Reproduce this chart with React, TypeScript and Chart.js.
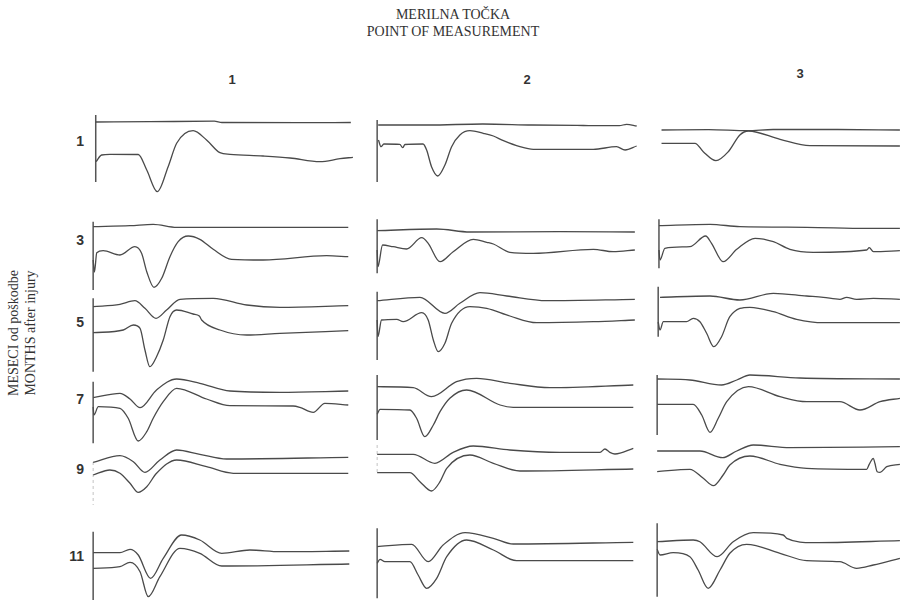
import React, { useEffect, useRef } from "react";
import { Chart, registerables } from "chart.js";

Chart.register(...registerables);

type Pt = [number, number];

// ---- axis / label data ----
const TITLE_LINES = ["MERILNA TOČKA", "POINT OF MEASUREMENT"];
const Y_TITLE_LINES = ["MESECI od poškodbe", "MONTHS after injury"];
const COLUMN_LABELS = ["1", "2", "3"];
const ROW_LABELS = ["1", "3", "5", "7", "9", "11"];
const TIME_MIN = -2;
const TIME_MAX = 102;

// ---- traces: [time, amplitude] ----
const r1c1Upper: Pt[] = [[1, 78], [22, 78.3], [47, 78.8], [50, 77.5], [80, 77.3], [100, 77.5]];
const r1c1Lower: Pt[] = [[1.1, 38.3], [3.3, 45], [6.5, 45.7], [17.5, 45.5], [20.8, 30], [24.9, 8.3], [29.1, 33.3], [32.4, 56.7], [38.8, 69.3], [44, 60], [49.2, 47.3], [53.1, 45.7], [65.9, 44], [76.4, 42], [88, 38.3], [95.8, 41.3], [100.8, 42.7]];
const r1c1Bar = [85, 18];

const r1c2Upper: Pt[] = [[0.4, 75], [20, 75], [41, 76], [60, 75], [80, 74.5], [94, 74.3], [96.8, 75.7], [100.7, 74]];
const r1c2Lower: Pt[] = [[0.5, 60], [1.5, 53.3], [2.6, 56], [8.8, 55.7], [9.9, 52.3], [10.8, 55.5], [17.8, 56], [19.2, 50], [21.1, 33.3], [23.5, 24], [26.3, 35], [28.9, 53.3], [32.1, 65], [36, 69.3], [41.2, 66.7], [45.1, 64], [49, 59.3], [55.4, 53.3], [60.6, 50.7], [83.9, 50.7], [92.9, 53.3], [96.2, 50], [100.7, 54]];
const r1c2Bar = [80, 18];

const r1c3Upper: Pt[] = [[1.7, 70], [20, 70.3], [35, 69.3], [45, 70.5], [70, 70.5], [94.2, 70]];
const r1c3Lower: Pt[] = [[1.7, 56.7], [14.7, 56.7], [17.9, 48.3], [22.8, 39.3], [27.6, 48.3], [32.1, 65], [35.4, 69], [47.7, 60.7], [59.3, 54.3], [94.2, 54]];

const r3c1Upper: Pt[] = [[0, 73.3], [14.3, 74.3], [23.3, 75.7], [32.4, 72.7], [59.6, 72.7], [99, 72.7]];
const r3c1Lower: Pt[] = [[0, 40], [0.5, 28], [1.4, 47.3], [3.9, 49.3], [10.4, 45], [16.2, 53.3], [18.8, 46.7], [20.8, 28.3], [23.6, 12.7], [26.6, 21.7], [29.8, 43.3], [33, 58.3], [36.9, 64], [41.4, 60.7], [46.6, 50.7], [53.7, 40.7], [66, 40], [90.6, 44.3], [99, 43.3]];
const r3c1Bar = [78.3, 10];

const r3c2Upper: Pt[] = [[0, 69.3], [23.1, 71], [36, 68], [70.9, 68.3], [100, 68]];
const r3c2Lower: Pt[] = [[0, 50], [0.3, 33.3], [2.1, 55], [6.2, 53.3], [11.4, 51], [17.3, 62.3], [19.8, 56.7], [24.4, 38.3], [29.5, 48.3], [37.3, 60.7], [42.5, 57.7], [45.1, 56], [51.5, 47.7], [60.6, 46.7], [83.9, 50.7], [91.6, 48.3], [100, 50]];
const r3c2Bar = [80.7, 26.7];

const r3c3Upper: Pt[] = [[0.7, 74.3], [20.5, 75.7], [32.1, 73.3], [58, 72.7], [81.3, 71.7], [94.2, 71.7]];
const r3c3Lower: Pt[] = [[0.7, 50], [1.1, 40], [3, 51.7], [12.7, 53.3], [18.8, 64], [21.1, 56.7], [25.6, 38.3], [30.9, 50.7], [38, 61.7], [45.1, 58.3], [51.5, 50.7], [60.6, 47.7], [81.3, 50], [82.3, 52.3], [83.9, 48.3], [94.2, 49.3]];
const r3c3Bar = [80.7, 31.7];

const r5c1Upper: Pt[] = [[0, 73.3], [10.4, 75.7], [16.2, 79.3], [20.1, 71.7], [24.4, 61.7], [28.5, 70], [33.7, 80.7], [46.6, 81.7], [59.6, 75], [72.5, 72.7], [99, 74.3]];
const r5c1Lower: Pt[] = [[0, 47.3], [11.7, 50], [15.6, 55], [18.2, 51.7], [20.1, 30], [22, 13.3], [24.6, 23.3], [27.2, 40], [29.8, 63.3], [32.4, 70], [38.8, 66], [41.2, 64], [42.1, 60], [49.2, 50], [59.6, 45], [72.5, 46.7], [99, 49.3]];
const r5c1Bar = [81.7, 8.3];

const r5c2Upper: Pt[] = [[0, 79.3], [16.6, 82.7], [26.3, 66.7], [32.1, 76.7], [39.9, 87.3], [50.3, 84], [65.8, 79.3], [100, 80.7]];
const r5c2Lower: Pt[] = [[0, 60], [0.3, 43.3], [1.7, 60], [7.6, 60.7], [10.1, 58.3], [17.3, 67.3], [19.8, 60], [21.8, 40], [23.7, 28.3], [26.3, 36.7], [28.9, 56.7], [36, 73.3], [42.5, 71.7], [51.5, 64], [61.9, 57.3], [83.9, 58.3], [100, 60]];
const r5c2Bar = [88.3, 20];

const r5c3Upper: Pt[] = [[1.1, 82.7], [20.5, 84], [32.1, 80], [45.1, 86.7], [58, 84], [64.5, 82.7], [70.9, 80.7], [73.5, 82.7], [77.4, 80.7], [83.9, 81.7], [94.2, 80.7]];
const r5c3Lower: Pt[] = [[0.4, 58], [1.1, 50], [2.4, 58.3], [11.4, 58.3], [14, 61.7], [16.6, 58.3], [19.2, 46.7], [22, 33.3], [25, 43.3], [28.2, 63.3], [36, 72.7], [45.1, 68.3], [54.1, 60.7], [64.5, 57.3], [94.2, 57.3]];
const r5c3Bar = [93.3, 43.3];

const r7c1Upper: Pt[] = [[0, 52.3], [10.4, 56.7], [14.3, 51], [18.2, 42.3], [24.6, 60], [32.4, 71], [41.4, 66.7], [53.1, 59], [72.5, 57.7], [99, 59]];
const r7c1Lower: Pt[] = [[0, 43], [0.3, 35], [2, 43.3], [10.4, 41.7], [13.6, 31.7], [17.5, 9], [20.8, 18.3], [23.3, 31.7], [27.2, 48.3], [32.4, 61.7], [44, 51], [53.1, 44.3], [77.6, 44], [80.2, 42.7], [85.4, 37.7], [89.9, 46.7], [99, 45]];
const r7c1Bar = [68.3, 6.7];

const r7c2Upper: Pt[] = [[0, 63.3], [14, 62.3], [21.1, 53.3], [30.8, 68.3], [38.6, 71.7], [51.5, 66.7], [67.1, 62.3], [99.4, 65]];
const r7c2Lower: Pt[] = [[0, 35.7], [1.1, 40.7], [12.7, 40], [15.3, 31.7], [18.5, 13.3], [21.8, 25], [24.4, 38.3], [28.2, 51.7], [34.7, 60], [47.7, 45], [52.8, 42.7], [99.4, 42.7]];
const r7c2Bar = [75, 10];

const r7c3Upper: Pt[] = [[0, 71], [12.7, 70], [25, 65], [30.9, 70], [36, 75], [55.4, 72], [94.2, 71]];
const r7c3Lower: Pt[] = [[0, 45.7], [14, 45.7], [17.3, 35], [20.5, 17.7], [23.7, 31.7], [27, 48.3], [35.4, 63.3], [47.7, 53.3], [58, 48.3], [70.9, 48.3], [78.7, 40], [86.5, 48.3], [94.2, 51.7]];
const r7c3Bar = [75, 15];

const r9c1Upper: Pt[] = [[0, 45.7], [10.4, 52.3], [15.6, 46.3], [20.1, 35.7], [25.9, 48], [32.4, 58], [41.4, 53.7], [51.8, 49], [99, 50.7]];
const r9c1Lower: Pt[] = [[0, 33], [6.5, 38], [10.4, 34.7], [14.3, 24.7], [17.5, 15.7], [20.8, 21.3], [24.6, 34.7], [32.4, 48], [44, 41.3], [54.4, 34.7], [99, 34.7]];
const r9c1Bar = [46, 3];

const r9c2Upper: Pt[] = [[0, 53.7], [14, 53.7], [22.4, 44.7], [29.5, 55.7], [37.3, 62], [51.5, 58], [70.9, 55.7], [86.5, 55.7], [88.4, 59], [90.3, 55.7], [92.3, 54], [99.4, 59.7]];
const r9c2Lower: Pt[] = [[0, 35.3], [12.7, 35.3], [16.6, 26.3], [21.1, 17], [24.4, 26.3], [27, 39.7], [36, 53], [45.1, 44.7], [55.4, 37], [99.4, 39]];
const r9c2Bar = [63, 36];

const r9c3Upper: Pt[] = [[0, 57], [16.6, 57], [25.4, 50.3], [30.9, 57], [37.3, 63], [51.5, 60.3], [94.2, 61.3]];
const r9c3Lower: Pt[] = [[0, 36.3], [12.7, 38.7], [17.9, 29.7], [21.8, 22.3], [25.6, 33], [28.2, 43], [36, 52], [47.7, 43.7], [58, 39.7], [81.3, 38.7], [82.3, 43.7], [83.9, 49.7], [84.5, 44.7], [85.4, 36.3], [86.5, 35.7], [89.1, 41.3], [94.2, 43.7]];

const r11c1Upper: Pt[] = [[0, 49.3], [10.4, 49.3], [14.3, 52.7], [17.5, 47], [22.3, 23.7], [27.2, 43.7], [34.3, 67], [41.4, 62], [49.9, 48.7], [60.8, 52], [72.5, 50.3], [99.4, 51]];
const r11c1Lower: Pt[] = [[0, 33.7], [10.4, 35.3], [14.3, 39.7], [18.2, 30.3], [21.4, 5.3], [25.9, 25.3], [33.7, 53.7], [41.4, 48.7], [49.9, 36], [99.4, 38]];
const r11c1Bar = [70.3, 2];

const r11c2Upper: Pt[] = [[0, 55.3], [13.4, 57.7], [19.8, 40.3], [25.6, 57], [34.1, 69.3], [45.1, 63.7], [52.8, 58], [99.4, 59.7]];
const r11c2Lower: Pt[] = [[0, 38.7], [1.1, 42.7], [3, 40.3], [12.7, 40.3], [15.9, 27], [19.2, 13.7], [23.1, 23.7], [27, 45.3], [34.7, 62], [45.1, 52], [54.1, 41.3], [99.4, 41.3]];
const r11c2Bar = [73.7, 3.7];

const r11c3Upper: Pt[] = [[0, 60.3], [14, 62], [16.6, 60.3], [23.3, 45.3], [29.5, 60.3], [37.3, 69.3], [48.9, 67], [50.3, 63.7], [60.6, 59.3], [94.2, 61.3]];
const r11c3Lower: Pt[] = [[0, 52.7], [1.1, 47], [6.2, 49.3], [12.7, 45.3], [15.9, 32], [19.8, 13.7], [24.4, 32], [28.2, 48.7], [34.7, 57.7], [47.7, 48.7], [58, 41.3], [70.9, 40.3], [77.4, 33.7], [83.9, 37], [94.2, 43.7]];
const r11c3Bar = [78.7, 5.3];

// ---- layout (positions only) ----
const PANEL_W = 268;
const COL_LEFT = [88, 372, 652];
const COL_LABEL_X = [232, 527, 800];
const COL_LABEL_Y = [79, 79, 73];
const ROW_TOP = [105, 210, 280, 368, 438, 515];
const ROW_H = [95, 90, 100, 82, 70, 87];
const ROW_LABEL_Y = [141, 240, 322, 399, 469, 556];
const ROW_LABEL_RIGHT = 84;

type PanelDef = {
  upper: Pt[];
  lower: Pt[];
  bar: number[] | null;
  barAt: number;
  faint?: boolean;
};

const PANELS: PanelDef[][] = [
  [
    { upper: r1c1Upper, lower: r1c1Lower, bar: r1c1Bar, barAt: 1 },
    { upper: r1c2Upper, lower: r1c2Lower, bar: r1c2Bar, barAt: 0 },
    { upper: r1c3Upper, lower: r1c3Lower, bar: null, barAt: 0 },
  ],
  [
    { upper: r3c1Upper, lower: r3c1Lower, bar: r3c1Bar, barAt: 0 },
    { upper: r3c2Upper, lower: r3c2Lower, bar: r3c2Bar, barAt: 0 },
    { upper: r3c3Upper, lower: r3c3Lower, bar: r3c3Bar, barAt: 0.7 },
  ],
  [
    { upper: r5c1Upper, lower: r5c1Lower, bar: r5c1Bar, barAt: 0 },
    { upper: r5c2Upper, lower: r5c2Lower, bar: r5c2Bar, barAt: 0 },
    { upper: r5c3Upper, lower: r5c3Lower, bar: r5c3Bar, barAt: 0.4 },
  ],
  [
    { upper: r7c1Upper, lower: r7c1Lower, bar: r7c1Bar, barAt: 0 },
    { upper: r7c2Upper, lower: r7c2Lower, bar: r7c2Bar, barAt: 0 },
    { upper: r7c3Upper, lower: r7c3Lower, bar: r7c3Bar, barAt: 0 },
  ],
  [
    { upper: r9c1Upper, lower: r9c1Lower, bar: r9c1Bar, barAt: 0, faint: true },
    { upper: r9c2Upper, lower: r9c2Lower, bar: r9c2Bar, barAt: 0, faint: true },
    { upper: r9c3Upper, lower: r9c3Lower, bar: null, barAt: 0 },
  ],
  [
    { upper: r11c1Upper, lower: r11c1Lower, bar: r11c1Bar, barAt: 0 },
    { upper: r11c2Upper, lower: r11c2Lower, bar: r11c2Bar, barAt: 0 },
    { upper: r11c3Upper, lower: r11c3Lower, bar: r11c3Bar, barAt: 0 },
  ],
];

const TRACE_COLOR = "#4a4a4a";

function Panel({ def, left, top, height }: { def: PanelDef; left: number; top: number; height: number }) {
  const ref = useRef<HTMLCanvasElement | null>(null);
  useEffect(() => {
    if (!ref.current) return;
    const toXY = (pts: Pt[]) => pts.map(([x, y]) => ({ x, y }));
    const datasets: any[] = [
      {
        data: toXY(def.upper),
        borderColor: TRACE_COLOR,
        borderWidth: 1.3,
        cubicInterpolationMode: "monotone",
        pointRadius: 0,
        fill: false,
      },
      {
        data: toXY(def.lower),
        borderColor: TRACE_COLOR,
        borderWidth: 1.3,
        cubicInterpolationMode: "monotone",
        pointRadius: 0,
        fill: false,
      },
    ];
    if (def.bar) {
      datasets.push({
        data: def.bar.map((y) => ({ x: def.barAt, y })),
        borderColor: def.faint ? "#c4c4c4" : "#555555",
        borderWidth: def.faint ? 1 : 1.5,
        borderDash: def.faint ? [3, 3] : [],
        tension: 0,
        pointRadius: 0,
        fill: false,
      });
    }
    const chart = new Chart(ref.current, {
      type: "line",
      data: { datasets },
      options: {
        animation: false,
        responsive: false,
        maintainAspectRatio: false,
        events: [],
        layout: { padding: 0 },
        plugins: { legend: { display: false }, tooltip: { enabled: false }, title: { display: false } },
        scales: {
          x: { type: "linear", min: TIME_MIN, max: TIME_MAX, display: false },
          y: { type: "linear", min: 0, max: height, display: false },
        },
        elements: { point: { radius: 0 } },
      },
    });
    return () => chart.destroy();
  }, [def, height]);
  return (
    <canvas
      ref={ref}
      width={PANEL_W}
      height={height}
      style={{ position: "absolute", left, top, width: PANEL_W, height }}
    />
  );
}

export default function App() {
  const serif = '"Liberation Serif", "Times New Roman", serif';
  const sans = '"Liberation Sans", Arial, sans-serif';
  return (
    <div
      style={{
        position: "absolute",
        left: 0,
        top: 0,
        width: 900,
        height: 602,
        overflow: "hidden",
        background: "#ffffff",
      }}
    >
      {TITLE_LINES.map((t, i) => (
        <div
          key={"t" + i}
          style={{
            position: "absolute",
            left: 453,
            top: 15 + i * 17,
            transform: "translate(-50%, -50%)",
            fontFamily: serif,
            fontSize: 14,
            color: "#333",
            whiteSpace: "nowrap",
          }}
        >
          {t}
        </div>
      ))}
      {COLUMN_LABELS.map((t, i) => (
        <div
          key={"c" + i}
          style={{
            position: "absolute",
            left: COL_LABEL_X[i],
            top: COL_LABEL_Y[i],
            transform: "translate(-50%, -50%)",
            fontFamily: sans,
            fontWeight: "bold",
            fontSize: 13,
            color: "#333",
          }}
        >
          {t}
        </div>
      ))}
      {ROW_LABELS.map((t, i) => (
        <div
          key={"r" + i}
          style={{
            position: "absolute",
            right: 900 - ROW_LABEL_RIGHT,
            top: ROW_LABEL_Y[i],
            transform: "translateY(-50%)",
            fontFamily: sans,
            fontWeight: "bold",
            fontSize: 14,
            color: "#333",
          }}
        >
          {t}
        </div>
      ))}
      {Y_TITLE_LINES.map((t, i) => (
        <div
          key={"y" + i}
          style={{
            position: "absolute",
            left: 14 + i * 17,
            top: 333,
            transform: "translate(-50%, -50%) rotate(-90deg)",
            fontFamily: serif,
            fontSize: 14,
            color: "#333",
            whiteSpace: "nowrap",
          }}
        >
          {t}
        </div>
      ))}
      {PANELS.map((row, ri) =>
        row.map((def, ci) => (
          <Panel key={ri + "-" + ci} def={def} left={COL_LEFT[ci]} top={ROW_TOP[ri]} height={ROW_H[ri]} />
        ))
      )}
    </div>
  );
}
